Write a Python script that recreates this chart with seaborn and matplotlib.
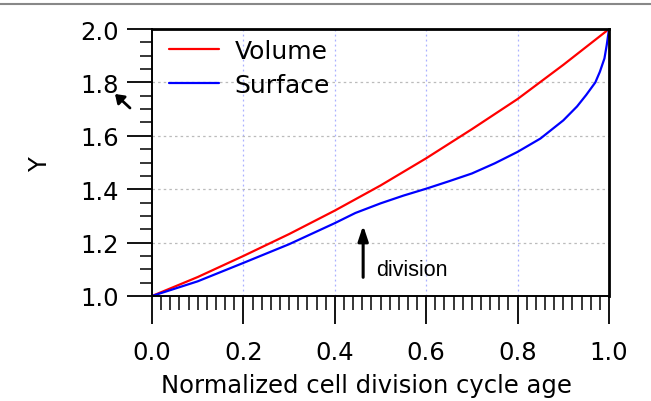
import numpy as np
import pandas as pd
import matplotlib
matplotlib.use('Agg')
import matplotlib.pyplot as plt
from matplotlib.lines import Line2D
from matplotlib.ticker import MultipleLocator, FormatStrFormatter
import seaborn as sns

# values
vol_x = [0.0, 0.1, 0.2, 0.3, 0.4, 0.5, 0.6, 0.7, 0.8, 0.9, 1.0]
vol_y = [1.0, 1.071, 1.150, 1.232, 1.320, 1.414, 1.516, 1.625, 1.738, 1.866, 2.0]

surf_x = [0.0, 0.1, 0.2, 0.3, 0.4, 0.445, 0.5, 0.55, 0.6, 0.65, 0.7, 0.75,
          0.8, 0.85, 0.9, 0.93, 0.95, 0.97, 0.98, 0.99, 0.995, 1.0]
surf_y = [1.0, 1.055, 1.124, 1.194, 1.273, 1.311, 1.347, 1.376, 1.402, 1.43,
          1.459, 1.497, 1.54, 1.59, 1.658, 1.71, 1.753, 1.80, 1.84, 1.89, 1.94, 2.0]

series = ['Volume', 'Surface']
colors = ['#ff0000', '#0000ff']

df = pd.concat([
    pd.DataFrame({'x': vol_x, 'Y': vol_y, 'series': 'Volume'}),
    pd.DataFrame({'x': surf_x, 'Y': surf_y, 'series': 'Surface'}),
])

sns.set_style('ticks')
plt.rcParams['font.family'] = ['DejaVu Sans']
plt.rcParams['text.color'] = 'black'
plt.rcParams['axes.labelcolor'] = 'black'
plt.rcParams['xtick.color'] = 'black'
plt.rcParams['ytick.color'] = 'black'

fig = plt.figure(figsize=(6.51, 4.02), dpi=100)
ax = fig.add_axes([0.2335, 0.2612, 0.702, 0.664])

sns.lineplot(data=df, x='x', y='Y', hue='series', hue_order=series,
             palette=colors, estimator=None, sort=True, linewidth=1.6, ax=ax)

ax.set_xlim(0, 1)
ax.set_ylim(1.0, 2.0)
ax.xaxis.set_major_locator(MultipleLocator(0.2))
ax.xaxis.set_minor_locator(MultipleLocator(0.02))
ax.yaxis.set_major_locator(MultipleLocator(0.2))
ax.yaxis.set_minor_locator(MultipleLocator(0.05))
ax.xaxis.set_major_formatter(FormatStrFormatter('%.1f'))
ax.yaxis.set_major_formatter(FormatStrFormatter('%.1f'))

ax.tick_params(axis='both', which='major', width=1.3, labelsize=17.5,
               direction='out', color='black', labelcolor='black')
ax.tick_params(axis='both', which='minor', width=1.1, direction='out', color='black')
ax.tick_params(axis='x', which='major', length=20, pad=12)
ax.tick_params(axis='x', which='minor', length=10)
ax.tick_params(axis='y', which='major', length=18, pad=6)
ax.tick_params(axis='y', which='minor', length=9)

for s in ax.spines.values():
    s.set_visible(True)
    s.set_linewidth(1.4)
    s.set_color('black')
ax.spines['top'].set_linewidth(2)
ax.spines['right'].set_linewidth(2)

# grid
for gx in [0.2, 0.4, 0.6, 0.8]:
    ax.axvline(gx, color='#aab0ff', linestyle=(0, (1.5, 2.5)), linewidth=0.9, zorder=0)
for gy in [1.2, 1.4, 1.6, 1.8]:
    ax.axhline(gy, color='#bbbbbb', linestyle=(0, (2, 2.5)), linewidth=0.9, zorder=0)

ax.set_xlabel('Normalized cell division cycle age', fontsize=17.5, labelpad=6)
ax.xaxis.label.set_x(0.47)
ax.set_ylabel('Y', fontsize=17.5, labelpad=20)

leg = ax.legend(loc='upper left', frameon=False, fontsize=18, handlelength=2.0,
                handletextpad=0.6, labelspacing=0.38, borderaxespad=0.0,
                bbox_to_anchor=(0.016, 1.0))

# division arrow
ax.annotate('', xy=(0.462, 1.264), xytext=(0.462, 1.07),
            arrowprops=dict(arrowstyle='-|>,head_length=0.9,head_width=0.3',
                            color='black', lw=2.2, shrinkA=0, shrinkB=0))
ax.text(0.49, 1.08, 'division', fontsize=15.5, family='Liberation Sans',
        ha='left', va='baseline')

# little pointer near the 1.8 label
fig.add_artist(matplotlib.patches.FancyArrowPatch(
    (130, 402 - 109), (115, 402 - 95), transform=None,
    arrowstyle='-|>,head_length=5,head_width=3.5', color='black', lw=2,
    shrinkA=0, shrinkB=0))

# grey rule at the top
fig.add_artist(Line2D([0, 1], [1 - 5 / 402, 1 - 5 / 402], color='#888888', linewidth=1.5))

fig.savefig('out.png', dpi=100)
